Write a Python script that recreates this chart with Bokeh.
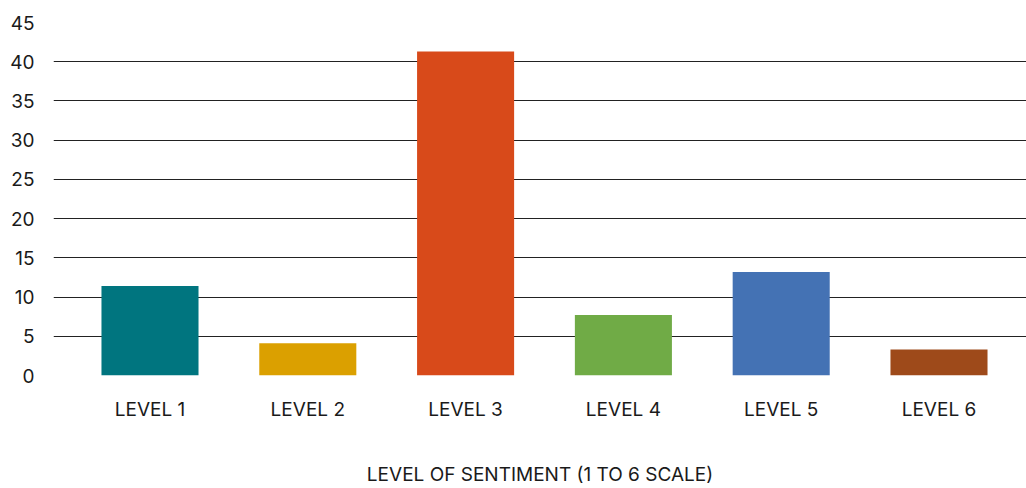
from bokeh.plotting import figure
from bokeh.models import Range1d, FixedTicker, ColumnDataSource
from bokeh.embed import file_html
from bokeh.resources import INLINE

categories = ["LEVEL 1", "LEVEL 2", "LEVEL 3", "LEVEL 4", "LEVEL 5", "LEVEL 6"]
values = [11.4, 4.1, 41.3, 7.7, 13.2, 3.3]
colors = ["#00757F", "#DBA000", "#D84A1A", "#70AB46", "#4472B4", "#9E4A1A"]
y_ticks = [0, 5, 10, 15, 20, 25, 30, 35, 40, 45]
x_title = "LEVEL OF SENTIMENT (1 TO 6 SCALE)"

positions = list(range(1, len(categories) + 1))
source = ColumnDataSource(dict(x=positions, top=values, color=colors))

FONT = "Inter"
TEXT = "#1a1a1a"

p = figure(width=1026, height=488, output_backend="svg", toolbar_location=None,
           x_range=Range1d(0.3885, 6.5545), y_range=Range1d(0, 45),
           min_border_left=53, min_border_right=0, min_border_top=22, min_border_bottom=100)
p.outline_line_color = None
p.background_fill_color = "white"
p.border_fill_color = "white"

p.vbar(x="x", top="top", width=0.615, bottom=0, color="color", source=source, line_color=None)

p.xgrid.grid_line_color = None
p.ygrid.grid_line_color = "#222222"
p.ygrid.grid_line_width = 1
p.ygrid.ticker = FixedTicker(ticks=y_ticks)

p.yaxis.ticker = FixedTicker(ticks=y_ticks)
p.yaxis.axis_line_color = None
p.yaxis.major_tick_line_color = None
p.yaxis.minor_tick_line_color = None
p.yaxis.major_label_text_font = FONT
p.yaxis.major_label_text_font_size = "19px"
p.yaxis.major_label_text_color = TEXT
p.yaxis.major_label_standoff = 13

p.xaxis.ticker = FixedTicker(ticks=positions)
p.xaxis.major_label_overrides = {pos: cat for pos, cat in zip(positions, categories)}
p.xaxis.axis_line_color = None
p.xaxis.major_tick_line_color = None
p.xaxis.minor_tick_line_color = None
p.xaxis.major_label_text_font = FONT
p.xaxis.major_label_text_font_size = "19px"
p.xaxis.major_label_text_color = TEXT
p.xaxis.major_label_standoff = 16
p.xaxis.axis_label = x_title
p.xaxis.axis_label_text_font = FONT
p.xaxis.axis_label_text_font_size = "19px"
p.xaxis.axis_label_text_font_style = "normal"
p.xaxis.axis_label_text_color = TEXT
p.xaxis.axis_label_standoff = 39

open("out.html", "w").write(file_html(p, INLINE))
